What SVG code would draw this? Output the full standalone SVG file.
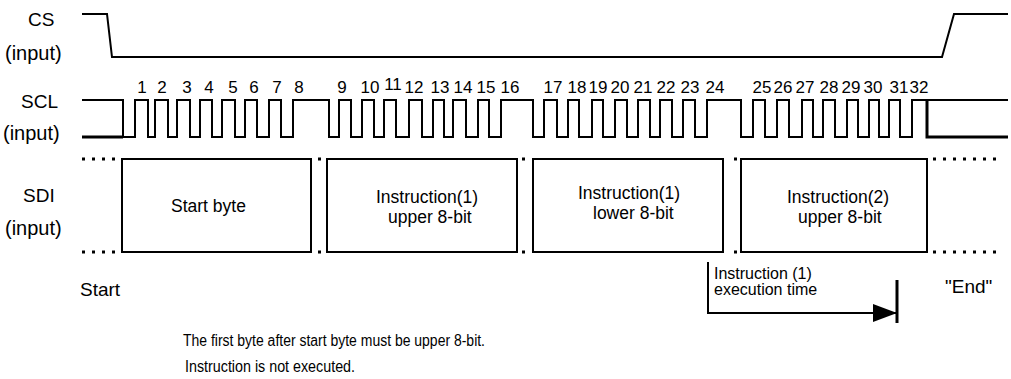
<svg xmlns="http://www.w3.org/2000/svg" width="1011" height="379" viewBox="0 0 1011 379">
<style>
text{font-family:"Liberation Sans",Arial,sans-serif;fill:#000}
.lbl{font-size:19px}
.inp{font-size:20px}
.num{font-size:17px;text-anchor:middle}
.box{font-size:17.5px}
.note{font-size:16px}
.foot{font-size:16px}
.w{fill:none;stroke:#000;stroke-width:2}
.thick{fill:none;stroke:#000;stroke-width:3}
.dots{fill:none;stroke:#000;stroke-width:3;stroke-dasharray:3 7}
.b{fill:none;stroke:#000;stroke-width:2}
</style>
<defs>
<marker id="ah" markerWidth="24" markerHeight="18" refX="24" refY="9" orient="auto" markerUnits="userSpaceOnUse">
<path d="M0,0 L24,9 L0,18 Z" fill="#000"/>
</marker>
</defs>
<g id="labels">
<text class="lbl" x="28" y="26">CS</text>
<text class="inp" x="5" y="60">(input)</text>
<text class="lbl" x="21" y="108">SCL</text>
<text class="inp" x="3" y="140">(input)</text>
<text class="lbl" x="23" y="202">SDI</text>
<text class="inp" x="5" y="235">(input)</text>
</g>
<g id="cs">
<path class="w" d="M82,14 H107 L112,57 H942 L954,14 H1008"/>
</g>
<g id="scl">
<path class="w" d="M82,100 H123 V137"/>
<path class="thick" d="M82,137 H123"/>
<path class="w" d="M123,137 H135 V100 H148 V137 H155 V100 H168 V137 H177 V100 H190 V137 H200 V100 H212 V137 H222 V100 H235 V137 H245 V100 H257 V137 H269 V100 H281 V137 H293 V100 H329 V137 H339 V100 H351 V137 H362 V100 H374 V137 H384 V100 H396 V137 H409 V100 H422 V137 H433 V100 H444 V137 H453 V100 H466 V137 H478 V100 H489 V137 H501 V100 H533 V137 H544 V100 H557 V137 H568 V100 H579 V137 H592 V100 H603 V137 H615 V100 H627 V137 H638 V100 H650 V137 H660 V100 H672 V137 H683 V100 H695 V137 H707 V100 H741 V137 H753 V100 H765 V137 H777 V100 H789 V137 H802 V100 H813 V137 H823 V100 H835 V137 H847 V100 H858 V137 H869 V100 H879 V137 H889 V100 H900 V137 H912 V100 H1008"/>
<path class="thick" d="M927,100 V137 H1008"/>
</g>
<g id="clock-numbers">
<text class="num" x="142" y="93">1</text>
<text class="num" x="162" y="93">2</text>
<text class="num" x="187" y="93">3</text>
<text class="num" x="209" y="93">4</text>
<text class="num" x="233" y="93">5</text>
<text class="num" x="254" y="93">6</text>
<text class="num" x="277" y="93">7</text>
<text class="num" x="299" y="93">8</text>
<text class="num" x="342" y="93">9</text>
<text class="num" x="370" y="93">10</text>
<text class="num" x="393" y="90">11</text>
<text class="num" x="414" y="93">12</text>
<text class="num" x="440" y="93">13</text>
<text class="num" x="463" y="93">14</text>
<text class="num" x="486" y="93">15</text>
<text class="num" x="510" y="93">16</text>
<text class="num" x="553" y="93">17</text>
<text class="num" x="577" y="93">18</text>
<text class="num" x="598" y="93">19</text>
<text class="num" x="620" y="93">20</text>
<text class="num" x="643" y="93">21</text>
<text class="num" x="666" y="93">22</text>
<text class="num" x="690" y="93">23</text>
<text class="num" x="715" y="93">24</text>
<text class="num" x="762" y="93">25</text>
<text class="num" x="783" y="93">26</text>
<text class="num" x="805" y="93">27</text>
<text class="num" x="829" y="93">28</text>
<text class="num" x="851" y="93">29</text>
<text class="num" x="873" y="93">30</text>
<text class="num" x="899" y="93">31</text>
<text class="num" x="919" y="93">32</text>
</g>
<g id="sdi-dots">
<path class="dots" d="M82,159 H118 M82,252 H118 M318,159 H322 M318,252 H322 M522,159 H526 M522,252 H526 M734,159 H738 M734,252 H738 M933,159 H998 M933,252 H998"/>
</g>
<g id="start-byte">
<rect class="b" x="122" y="159" width="189" height="93"/>
<text class="box" x="171" y="212">Start byte</text>
</g>
<g id="instr1-upper">
<rect class="b" x="327" y="159" width="190" height="93"/>
<text class="box" x="376" y="203">Instruction(1)</text>
<text class="box" x="388" y="223">upper 8-bit</text>
</g>
<g id="instr1-lower">
<rect class="b" x="533" y="159" width="190" height="93"/>
<text class="box" x="578" y="199">Instruction(1)</text>
<text class="box" x="593" y="219">lower 8-bit</text>
</g>
<g id="instr2-upper">
<rect class="b" x="741" y="159" width="186" height="93"/>
<text class="box" x="787" y="203">Instruction(2)</text>
<text class="box" x="798" y="223">upper 8-bit</text>
</g>
<g id="connectors">
<path class="w" d="M708,262 V313 H897" marker-end="url(#ah)"/>
<path class="thick" d="M897,280 V323"/>
</g>
<g id="annotations">
<text class="lbl" x="80" y="296">Start</text>
<text class="note" x="714" y="279">Instruction (1)</text>
<text class="note" x="714" y="295">execution time</text>
<text class="lbl" x="945" y="293">"End"</text>
<text class="foot" x="183" y="346" textLength="302" lengthAdjust="spacingAndGlyphs">The first byte after start byte must be upper 8-bit.</text>
<text class="foot" x="185" y="372" textLength="170" lengthAdjust="spacingAndGlyphs">Instruction is not executed.</text>
</g>
</svg>
